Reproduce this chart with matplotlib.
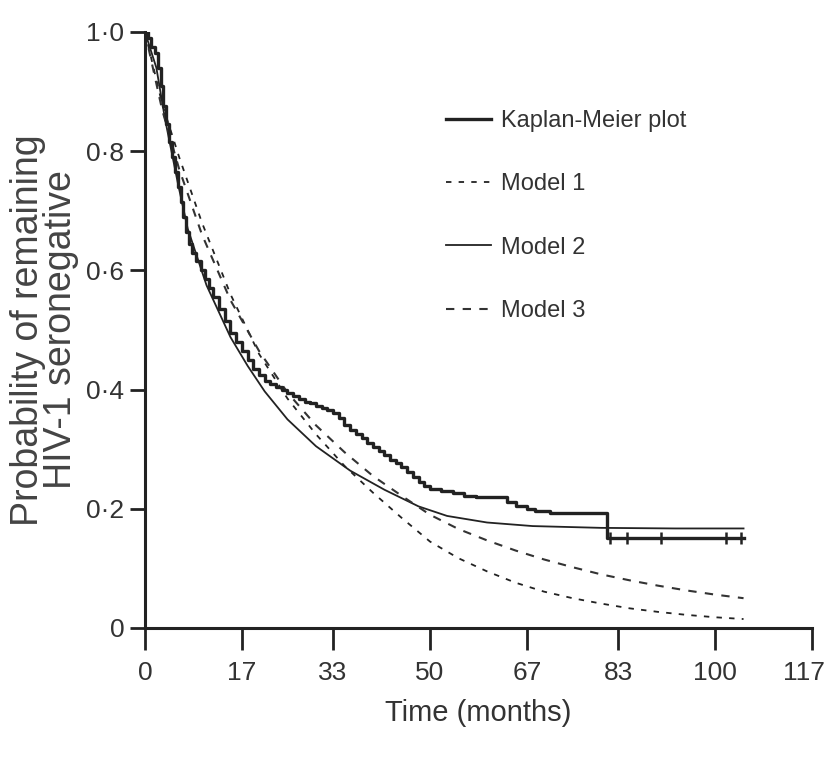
import matplotlib
matplotlib.use("Agg")
import matplotlib.pyplot as plt
from matplotlib import font_manager
from matplotlib.transforms import ScaledTranslation

# data (time in months, probability)
km_time = [0, 0.5, 1, 1.75, 2.25, 2.75, 3.25, 3.75, 4.25, 4.75, 5.25, 5.75, 6.25, 6.75,
           7.25, 7.75, 8.25, 9, 9.75, 10.5, 11.25, 12, 13, 14, 15, 16, 17, 18, 19, 20,
           21, 22, 23, 24, 25, 26, 27, 28, 29, 30, 31, 32, 33, 34, 35, 36, 37, 38, 39,
           40, 41, 42, 43, 44, 45, 46, 47, 48, 49, 50, 52, 54, 56, 58, 63.5, 65, 67,
           68.5, 71, 81, 105]
km_prob = [1.0, 0.99, 0.975, 0.965, 0.94, 0.91, 0.875, 0.845, 0.815, 0.79, 0.765, 0.74,
           0.715, 0.69, 0.665, 0.645, 0.63, 0.615, 0.6, 0.585, 0.57, 0.555, 0.535, 0.515,
           0.495, 0.48, 0.465, 0.45, 0.435, 0.425, 0.415, 0.41, 0.405, 0.4, 0.395, 0.39,
           0.385, 0.38, 0.377, 0.373, 0.369, 0.366, 0.36, 0.352, 0.34, 0.332, 0.325,
           0.318, 0.311, 0.303, 0.297, 0.29, 0.282, 0.277, 0.27, 0.262, 0.254, 0.245,
           0.238, 0.233, 0.23, 0.227, 0.222, 0.22, 0.212, 0.205, 0.2, 0.196, 0.193,
           0.151, 0.151]
censor_time = [81.5, 84.5, 90.5, 102, 104.5]
censor_prob = [0.151, 0.151, 0.151, 0.151, 0.151]

model1_time = [0, 3, 6, 10, 15, 20, 25, 30, 35, 40, 45, 50, 55, 60, 65, 70, 75, 80,
               85, 90, 95, 100, 105]
model1_prob = [1.0, 0.88, 0.79, 0.68, 0.56, 0.46, 0.385, 0.325, 0.272, 0.227, 0.185,
               0.145, 0.117, 0.095, 0.076, 0.061, 0.05, 0.041, 0.033, 0.027, 0.022,
               0.018, 0.015]

model2_time = [0, 2, 3.5, 5.8, 7.5, 10.8, 15, 18, 21, 25, 30, 36, 42, 48, 53, 60, 68,
               80, 93, 105]
model2_prob = [1.0, 0.94, 0.855, 0.745, 0.67, 0.575, 0.488, 0.44, 0.397, 0.35, 0.305,
               0.264, 0.232, 0.204, 0.188, 0.177, 0.171, 0.168, 0.167, 0.167]

model3_time = [0, 3, 6, 10, 15, 20, 25, 30, 35, 40, 45, 50, 55, 60, 65, 70, 75, 80,
               85, 90, 95, 100, 105]
model3_prob = [1.0, 0.87, 0.77, 0.66, 0.55, 0.465, 0.395, 0.34, 0.295, 0.255, 0.222,
               0.19, 0.166, 0.147, 0.13, 0.115, 0.102, 0.09, 0.08, 0.071, 0.063,
               0.056, 0.05]

x_ticks = [0, 17, 33, 50, 67, 83, 100, 117]
y_ticks = [0, 0.2, 0.4, 0.6, 0.8, 1.0]
y_tick_labels = ["0", "0·2", "0·4", "0·6", "0·8", "1·0"]

installed = {f.name for f in font_manager.fontManager.ttflist}
if "Liberation Sans Narrow" in installed:
    narrow = ["Liberation Sans Narrow", "DejaVu Sans"]
    tick_size, legend_size = 24, 20
else:
    narrow = ["Liberation Sans", "DejaVu Sans"]
    tick_size, legend_size = 19, 17
plain = ["Liberation Sans", "DejaVu Sans"]

ink = "#222222"
text_ink = "#333333"

fig = plt.figure(figsize=(8.26, 7.6), dpi=100)
ax = fig.add_axes([0.1755, 0.1737, 0.8075, 0.7842])

ax.plot(km_time, km_prob, drawstyle="steps-post", color=ink, lw=2.4,
        label="Kaplan-Meier plot", zorder=5)
ax.plot(censor_time, censor_prob, linestyle="none", marker="|", markersize=9,
        markeredgewidth=1.8, color=ink, zorder=5)
ax.plot(model1_time, model1_prob, color=ink, lw=1.3, linestyle=(0, (3, 4)),
        label="Model 1")
ax.plot(model2_time, model2_prob, color=ink, lw=1.3, label="Model 2")
ax.plot(model3_time, model3_prob, color="#333333", lw=1.5, linestyle=(0, (4, 4)),
        label="Model 3")

ax.set_xlim(0, 117)
ax.set_ylim(0, 1.0)
ax.set_xticks(x_ticks)
ax.set_xticklabels([str(t) for t in x_ticks], fontfamily=narrow, fontsize=tick_size,
                   color=text_ink)
ax.set_yticks(y_ticks)
ax.set_yticklabels(y_tick_labels, fontfamily=narrow, fontsize=tick_size, color=text_ink)
ax.tick_params(axis="x", direction="out", length=16, width=2, color=ink, pad=8)
ax.tick_params(axis="y", direction="out", length=11, width=2, color=ink, pad=4)

# keep the last x label inside the figure
last = ax.get_xticklabels()[-1]
last.set_transform(last.get_transform() + ScaledTranslation(-6 / 72, 0, fig.dpi_scale_trans))

for side in ["top", "right"]:
    ax.spines[side].set_visible(False)
for side in ["left", "bottom"]:
    ax.spines[side].set_linewidth(2.2)
    ax.spines[side].set_color(ink)

ax.set_xlabel("Time (months)", fontfamily=narrow, fontsize=21, color=text_ink,
              labelpad=10)
ax.set_ylabel("Probability of remaining\nHIV-1 seronegative", fontfamily=plain,
              fontsize=27, color="#444444", linespacing=0.88, labelpad=5)

ax.legend(loc="upper left", bbox_to_anchor=(0.42, 0.905), frameon=False,
          prop={"family": narrow, "size": legend_size}, handlelength=1.9,
          labelspacing=1.75, handletextpad=0.4, labelcolor=text_ink)

fig.savefig("out.png", dpi=100)
